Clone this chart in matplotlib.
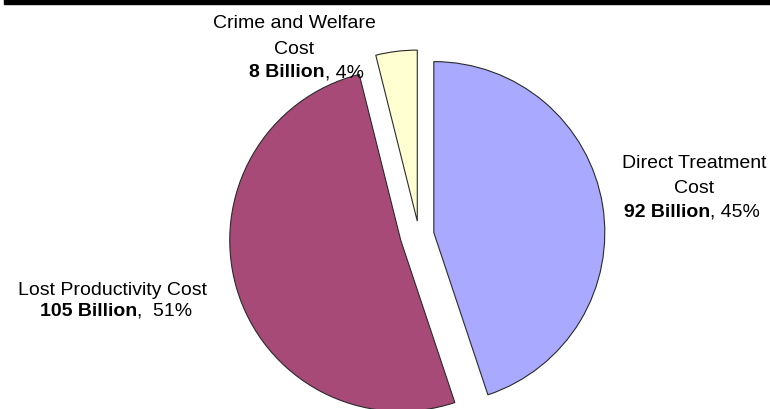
import matplotlib
matplotlib.use("Agg")
import matplotlib.pyplot as plt
from matplotlib.patches import Rectangle

plt.rcParams['font.family'] = ['Liberation Sans', 'DejaVu Sans']

# Data
categories = ["Direct Treatment Cost", "Lost Productivity Cost", "Crime and Welfare Cost"]
values_billion = [92, 105, 8]
percents = [45, 51, 4]
colors = ["#A9A9FF", "#A84A78", "#FFFFD2"]

W, H = 770, 410
fig = plt.figure(figsize=(W / 100, H / 100), dpi=100)
ax = fig.add_axes([0, 0, 1, 1])

# pixel-like data coordinates (y up); screen y = H - y
cx, cy = 419, H - 236
R = 171
explode = [15, 19, 14]

wedges, _ = ax.pie(values_billion, colors=colors, startangle=90, counterclock=False,
                   radius=R, center=(cx, cy), explode=explode,
                   wedgeprops=dict(edgecolor="#2a2a2a", linewidth=0.8))
ax.set_xlim(0, W)
ax.set_ylim(0, H)
ax.set_aspect('equal')
ax.axis('off')

# top black bar
ax.add_patch(Rectangle((4, H - 5), W - 4, 5, color='black', clip_on=False))

fs = 14


def sy(y):
    return H - y


def label(lines, cx_line, split_x, base_ys, bold_part, normal_part):
    for txt, y in zip(lines, base_ys[:len(lines)]):
        ax.text(cx_line, sy(y), txt, ha='center', va='baseline', fontsize=fs, color='black')
    yb = base_ys[-1]
    ax.text(split_x, sy(yb), bold_part, ha='right', va='baseline', fontsize=fs,
            fontweight='bold', color='black')
    ax.text(split_x, sy(yb), normal_part, ha='left', va='baseline', fontsize=fs, color='black')


# Direct Treatment
label(["Direct Treatment", "Cost"], 694, 710, [168, 193, 217],
      f"{values_billion[0]} Billion", f", {percents[0]}%")
# Lost Productivity
label(["Lost Productivity Cost"], 112, 137, [295, 316],
      f"{values_billion[1]} Billion", f",  {percents[1]}%")
# Crime and Welfare
label(["Crime and Welfare", "Cost"], 294, 325, [28, 54, 77],
      f"{values_billion[2]} Billion", f", {percents[2]}%")

fig.savefig("out.png", dpi=100)
